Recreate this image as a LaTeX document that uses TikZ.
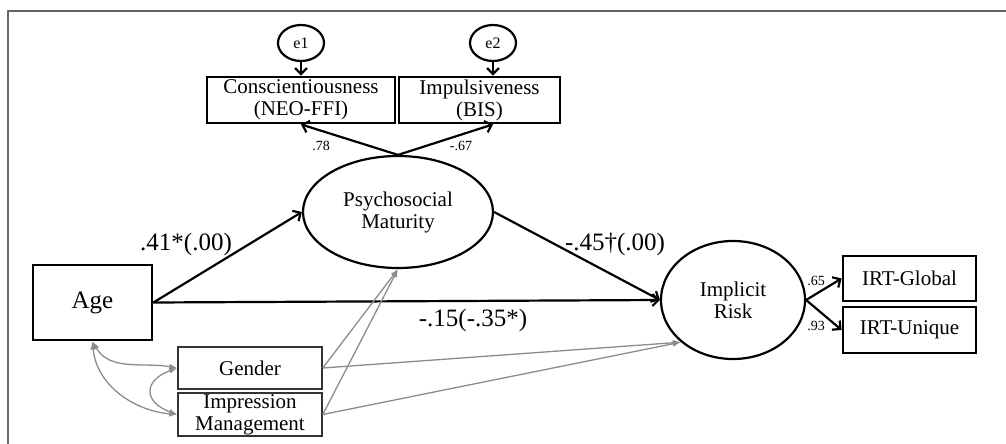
\documentclass[tikz,border=0pt]{standalone}
\usepackage{fontspec}
\setmainfont{Liberation Serif}
\usetikzlibrary{shapes.geometric, arrows.meta, positioning, calc}

\begin{document}
\begin{tikzpicture}[x=1pt, y=-1pt, align=center, font=\fontsize{21}{22}\selectfont,
    obs/.style={draw, line width=2.8pt, inner sep=0pt},
    cov/.style={draw=black!80, line width=1.5pt, inner sep=0pt, minimum width=144pt},
    lat/.style={draw, ellipse, line width=2.2pt, inner sep=0pt},
    err/.style={lat, minimum width=46pt, minimum height=36pt, font=\fontsize{16}{18}\selectfont},
    arrow/.style={-{Straight Barb[length=6pt,width=12pt]}, line width=2.2pt},
    gpath/.style={-{Latex[length=8pt,width=6pt]}, draw=black!45, line width=1.3pt},
    corr/.style={{Latex[length=8pt,width=6pt]}-{Latex[length=8pt,width=6pt]}, draw=black!45, line width=1.3pt},
    coef/.style={font=\fontsize{25}{27}\selectfont},
    load/.style={font=\fontsize{14}{15}\selectfont}
]
    \useasboundingbox (0,0) rectangle (1006,444);
    \draw[line width=2pt, draw=black!60] (8,444) -- (8,11) -- (1006,11);

    \node[err] (e1) at (301,43) {e1};
    \node[err] (e2) at (493,43) {e2};
    \node[obs, minimum width=188pt, minimum height=46pt] (consc) at (301,100) {Conscientiousness\\(NEO-FFI)};
    \node[obs, minimum width=161pt, minimum height=46pt] (impul) at (479.5,100) {Impulsiveness\\(BIS)};
    \node[lat, minimum width=190pt, minimum height=112pt] (psy) at (398,212) {Psychosocial\\Maturity};
    \node[obs, minimum width=119pt, minimum height=75pt, font=\fontsize{25}{27}\selectfont] (age) at (92.5,302.5) {Age};
    \node[cov, minimum height=42pt] (gender) at (250,368) {Gender};
    \node[cov, minimum height=43pt] (imp) at (250,414.5) {Impression\\Management};
    \node[lat, minimum width=144pt, minimum height=118pt] (risk) at (733,300) {Implicit\\Risk};
    \node[obs, minimum width=133pt, minimum height=45pt] (irtg) at (909.5,278.5) {IRT-Global};
    \node[obs, minimum width=133pt, minimum height=46pt] (irtu) at (909.5,330) {IRT-Unique};

    \draw[arrow] (e1.south) -- (e1.south |- consc.north);
    \draw[arrow] (e2.south) -- (e2.south |- impul.north);
    \draw[arrow] (psy.north) -- (consc.south -| e1.south);
    \draw[arrow] (psy.north) -- (impul.south -| e2.south);
    \draw[arrow] (age.east) -- (psy.west);
    \draw[arrow] (age.east) -- (risk.west);
    \draw[arrow] (psy.east) -- (risk.west);
    \draw[arrow] (risk.east) -- (irtg.west);
    \draw[arrow] (risk.east) -- (irtu.west);

    % covariates
    \draw[gpath] (gender.east) -- (psy.south);
    \draw[gpath] (imp.east) -- (psy.south);
    \draw[gpath] (gender.east) -- (risk.219);
    \draw[gpath] (imp.east) -- (risk.219);
    \draw[corr] (age.south) to[out=-60, in=170] (gender.west);
    \draw[corr] (age.south) to[out=-85, in=175] (imp.west);
    \draw[corr] (gender.west) to[out=200, in=160, looseness=2] (imp.west);

    \node[coef] (c1) at (186,244) {.41*(.00)};
    \node[coef] (c2) at (615,244) {-.45†(.00)};
    \node[coef] (c3) at (473,320) {-.15(-.35*)};
    \node[load] (l1) at (321,146) {.78};
    \node[load] (l2) at (461,146) {-.67};
    \node[load] (l3) at (816,281) {.65};
    \node[load] (l4) at (816,326) {.93};
\end{tikzpicture}
\end{document}
